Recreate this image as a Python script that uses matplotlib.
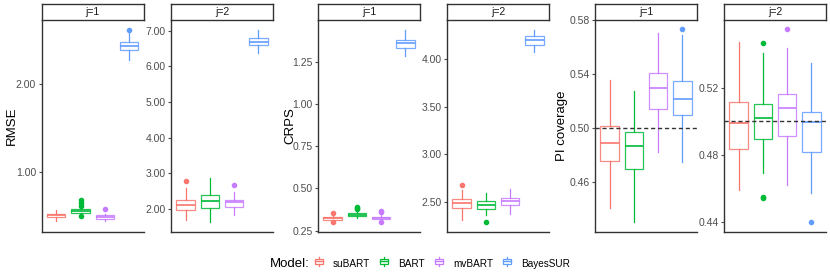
import numpy as np
import matplotlib
matplotlib.use("Agg")
import matplotlib.pyplot as plt
from matplotlib.legend_handler import HandlerBase
from matplotlib.patches import Rectangle
from matplotlib.lines import Line2D

plt.rcParams['font.family'] = ['Liberation Sans', 'DejaVu Sans']

models = ["suBART", "BART", "mvBART", "BayesSUR"]
colors = ["#F8766D", "#00BA38", "#C77CFF", "#619CFF"]

# five-number summaries per model: [whisker low, q1, median, q3, whisker high]
rmse_j1 = [[0.45, 0.49, 0.51, 0.53, 0.57],
           [0.52, 0.54, 0.56, 0.58, 0.61],
           [0.44, 0.47, 0.49, 0.51, 0.53],
           [2.27, 2.39, 2.44, 2.48, 2.59]]
rmse_j1_out = [[], [0.62, 0.65, 0.68, 0.50], [0.58], [2.62]]

rmse_j2 = [[1.69, 1.98, 2.10, 2.26, 2.59],
           [1.63, 2.01, 2.22, 2.40, 2.87],
           [1.82, 2.04, 2.18, 2.26, 2.48],
           [6.38, 6.60, 6.69, 6.79, 7.02]]
rmse_j2_out = [[2.78], [], [2.68], []]

crps_j1 = [[0.305, 0.315, 0.322, 0.330, 0.345],
           [0.325, 0.335, 0.343, 0.352, 0.368],
           [0.310, 0.316, 0.323, 0.330, 0.345],
           [1.283, 1.333, 1.358, 1.378, 1.436]]
crps_j1_out = [[0.357, 0.300], [0.380, 0.390, 0.385], [0.360, 0.365, 0.300], []]

crps_j2 = [[2.31, 2.43, 2.49, 2.525, 2.62],
           [2.36, 2.42, 2.465, 2.51, 2.59],
           [2.37, 2.465, 2.51, 2.54, 2.63],
           [4.07, 4.15, 4.20, 4.24, 4.31]]
crps_j2_out = [[2.675], [2.29], [], []]

pi_j1 = [[0.4403, 0.4755, 0.4885, 0.5013, 0.5355],
         [0.4303, 0.4698, 0.4865, 0.4970, 0.5270],
         [0.4817, 0.5137, 0.5293, 0.5405, 0.5700],
         [0.4748, 0.5098, 0.5213, 0.5345, 0.5689]]
pi_j1_out = [[], [], [], [0.573]]

pi_j2 = [[0.4592, 0.4834, 0.4992, 0.5117, 0.5473],
         [0.4690, 0.4893, 0.5018, 0.5101, 0.5404],
         [0.4620, 0.4913, 0.5081, 0.5162, 0.5434],
         [0.4572, 0.4820, 0.4998, 0.5058, 0.5345]]
pi_j2_out = [[], [0.5467, 0.4552, 0.4545], [0.5547], [0.4403]]

panels = [
    (rmse_j1, rmse_j1_out, "j=1", (0.32, 2.73), [1.0, 2.0], None),
    (rmse_j2, rmse_j2_out, "j=2", (1.35, 7.30), [2, 3, 4, 5, 6, 7], None),
    (crps_j1, crps_j1_out, "j=1", (0.242, 1.497), [0.25, 0.5, 0.75, 1.0, 1.25], None),
    (crps_j2, crps_j2_out, "j=2", (2.18, 4.41), [2.5, 3.0, 3.5, 4.0], None),
    (pi_j1, pi_j1_out, "j=1", (0.4227, 0.58), [0.46, 0.50, 0.54, 0.58], 0.5),
    (pi_j2, pi_j2_out, "j=2", (0.4342, 0.5602), [0.44, 0.48, 0.52], 0.5),
]

W, H = 830, 277
lefts = [41.7, 171, 318, 447, 595, 724]
pw = 102
top_px, bot_px, strip_h = 20, 232, 16

fig = plt.figure(figsize=(W / 100, H / 100), dpi=100)

for (summ, outs, lab, ylim, ticks, hline), lx in zip(panels, lefts):
    ax = fig.add_axes([lx / W, 1 - bot_px / H, pw / W, (bot_px - top_px) / H])
    for i, (s, o) in enumerate(zip(summ, outs)):
        st = dict(whislo=s[0], q1=s[1], med=s[2], q3=s[3], whishi=s[4], fliers=o)
        c = colors[i]
        ax.bxp([st], positions=[i + 1], widths=0.75, showcaps=False, patch_artist=True,
               boxprops=dict(facecolor="white", edgecolor=c, lw=0.9, alpha=0.85),
               whiskerprops=dict(color=c, lw=0.9),
               medianprops=dict(color=c, lw=1.2),
               flierprops=dict(marker="o", markerfacecolor=c, markeredgecolor=c,
                               markersize=3, linestyle="none"))
    if hline is not None:
        ax.axhline(hline, color="#333333", lw=1, ls=(0, (3, 2)), zorder=5)
    ax.set_xlim(0.4, 4.6)
    ax.set_ylim(*ylim)
    ax.set_yticks(ticks)
    ax.set_yticklabels([f"{t:.2f}" for t in ticks])
    ax.set_xticks([])
    ax.tick_params(axis="y", labelsize=7.5, colors="#4D4D4D", length=2.5, pad=1.5)
    for sp in ["top", "right"]:
        ax.spines[sp].set_visible(False)
    for sp in ["left", "bottom"]:
        ax.spines[sp].set_color("#333333")
        ax.spines[sp].set_linewidth(1)
    sax = fig.add_axes([lx / W, 1 - top_px / H, pw / W, strip_h / H])
    sax.set_xticks([])
    sax.set_yticks([])
    for sp in sax.spines.values():
        sp.set_color("#333333")
        sp.set_linewidth(1)
    sax.text(0.5, 0.5, lab, ha="center", va="center", fontsize=7.5, color="#1A1A1A",
             transform=sax.transAxes)

fig.text(12 / W, 1 - 126 / H, "RMSE", rotation=90, ha="center", va="center", fontsize=9.5)
fig.text(290 / W, 1 - 126 / H, "CRPS", rotation=90, ha="center", va="center", fontsize=9.5)
fig.text(562 / W, 1 - 126 / H, "PI coverage", rotation=90, ha="center", va="center", fontsize=9.5)


class BoxKey(HandlerBase):
    def create_artists(self, legend, orig, xd, yd, width, height, fontsize, trans):
        c = orig.get_color()
        cx = xd + width / 2
        r = Rectangle((cx - width * 0.35, yd + height * 0.2), width * 0.7, height * 0.6,
                      facecolor="white", edgecolor=c, lw=0.9, transform=trans)
        m = Line2D([cx - width * 0.35, cx + width * 0.35], [yd + height / 2] * 2,
                   color=c, lw=1, transform=trans)
        w1 = Line2D([cx, cx], [yd, yd + height * 0.2], color=c, lw=0.9, transform=trans)
        w2 = Line2D([cx, cx], [yd + height * 0.8, yd + height], color=c, lw=0.9, transform=trans)
        return [r, m, w1, w2]


handles = [Line2D([], [], color=c) for c in colors]
fig.text(270 / W, 1 - 264 / H, "Model:", ha="left", va="center", fontsize=9.5)
fig.legend(handles, models, handler_map={Line2D: BoxKey()}, ncol=4, frameon=False,
           loc="center left", bbox_to_anchor=(313 / W, 1 - 264 / H), fontsize=7.2,
           handlelength=1.2, handleheight=1.0, handletextpad=0.8, columnspacing=0.8,
           borderpad=0, borderaxespad=0)

fig.savefig("out.png", dpi=100)
